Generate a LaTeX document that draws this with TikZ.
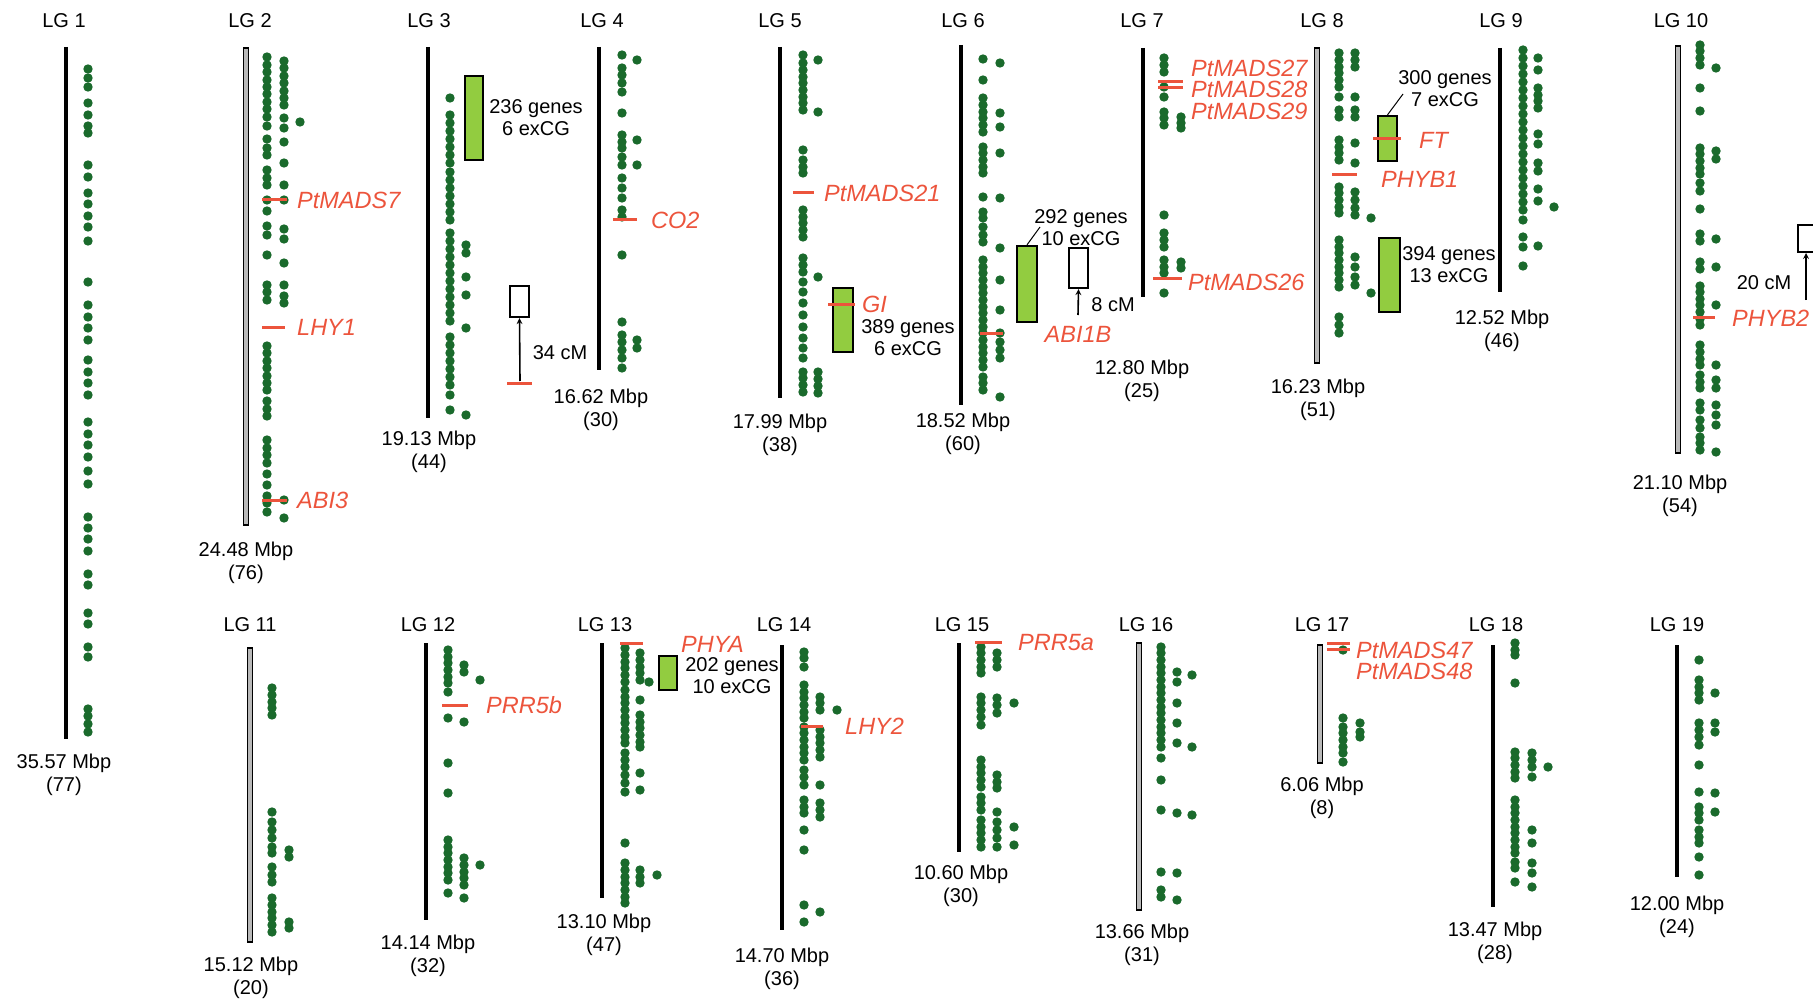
\documentclass[tikz,border=0pt]{standalone}
\usepackage{fontspec}
\setmainfont{Liberation Sans}
\usetikzlibrary{positioning}
\definecolor{dotgreen}{RGB}{26,106,44}
\definecolor{genered}{RGB}{236,84,60}
\definecolor{boxgreen}{RGB}{146,204,64}
\tikzset{
  gdot/.style={fill=dotgreen},
  sbar/.style={draw=black, line width=3.2pt},
  dbar/.style={draw=black, line width=1.3pt, fill=gray!55},
  lgname/.style={font=\fontsize{20}{22}\selectfont, inner sep=0pt},
  mbp/.style={font=\fontsize{20}{23}\selectfont, align=center, inner sep=0pt},
  note/.style={font=\fontsize{20}{22}\selectfont, align=center, inner sep=0pt},
  gene/.style={font=\fontsize{23.5}{24}\selectfont\itshape, text=genered, anchor=west, inner sep=0pt},
  gline/.style={draw=genered, line width=3pt},
  gbox/.style={draw=black, line width=2.3pt, fill=boxgreen, inner sep=0pt},
  cmbox/.style={draw=black, line width=2.3pt, fill=white, inner sep=0pt},
  cmarrow/.style={->, >=stealth, line width=1.6pt}
}
\begin{document}
\begin{tikzpicture}[x=1pt, y=-1pt]
\useasboundingbox (0,0) rectangle (1813,1003);
\node[lgname] (lg1) at (64,21) {LG 1};
\node[lgname] (lg2) at (250,21) {LG 2};
\node[lgname] (lg3) at (429,21) {LG 3};
\node[lgname] (lg4) at (602,21) {LG 4};
\node[lgname] (lg5) at (780,21) {LG 5};
\node[lgname] (lg6) at (963,21) {LG 6};
\node[lgname] (lg7) at (1142,21) {LG 7};
\node[lgname] (lg8) at (1322,21) {LG 8};
\node[lgname] (lg9) at (1501,21) {LG 9};
\node[lgname] (lg10) at (1681,21) {LG 10};
\node[lgname] (lg11) at (250,625) {LG 11};
\node[lgname] (lg12) at (428,625) {LG 12};
\node[lgname] (lg13) at (605,625) {LG 13};
\node[lgname] (lg14) at (784,625) {LG 14};
\node[lgname] (lg15) at (962,625) {LG 15};
\node[lgname] (lg16) at (1146,625) {LG 16};
\node[lgname] (lg17) at (1322,625) {LG 17};
\node[lgname] (lg18) at (1496,625) {LG 18};
\node[lgname] (lg19) at (1677,625) {LG 19};

\draw[sbar] (66,47) -- (66,739);
\foreach \y in {69,78,87,103,115,126,133,165,177,193,204,216,227,241,282,305,317,328,340,360,372,383,395,422,434,445,457,471,484,517,528,539,551,574,585,613,624,647,657,709,716,724,732}
  \fill[gdot] (88,\y) circle (4.7);
\node[mbp] (mbp1) at (64,775) {35.57 Mbp\\(77)};

\draw[dbar] (243.5,48) rectangle (248.5,525);
\foreach \y in {57,65,72,80,87,94,102,109,117,126,139,148,155,170,178,185,200,211,226,235,255,285,292,300,346,353,361,368,376,383,390,401,409,416,440,448,455,463,474,485,496,503,512}
  \fill[gdot] (267,\y) circle (4.7);
\foreach \y in {61,68,76,83,91,98,105,118,128,142,163,185,200,229,239,263,285,296,303,500,518}
  \fill[gdot] (284,\y) circle (4.7);
\fill[gdot] (300,122) circle (4.7);
\draw[gline] (262,200) -- (287,200);
\draw[gline] (262,327) -- (285,327);
\draw[gline] (262,500) -- (287,500);
\node[gene] (ptmads7) at (297,200) {PtMADS7};
\node[gene] (lhy1) at (297,327) {LHY1};
\node[gene] (abi3) at (297,500) {ABI3};
\node[mbp] (mbp2) at (246,563) {24.48 Mbp\\(76)};

\draw[sbar] (428,47) -- (428,418);
\foreach \y in {98,115,123,131,139,147,155,163,172,180,188,196,204,212,220,233,241,249,257,265,273,281,289,297,305,313,321,337,345,353,361,369,377,385,395,410}
  \fill[gdot] (450,\y) circle (4.7);
\foreach \y in {245,253,277,295,328,415}
  \fill[gdot] (466,\y) circle (4.7);
\node[gbox, minimum width=18pt, minimum height=84pt] (box3) at (474,118) {};
\node[note] (note3) at (536,118) {236 genes\\6 exCG};
\node[cmbox, minimum width=19pt, minimum height=31pt] (cmbox3) at (519.5,301.5) {};
\draw[gline] (507,383) -- (532,383);
\coordinate (cm3) at (520,381);
\draw[cmarrow] (cm3) -- (cmbox3.south);
\node[note] (dist3) at (560,353) {34 cM};
\node[mbp] (mbp3) at (429,452) {19.13 Mbp\\(44)};

\draw[sbar] (599,47) -- (599,370);
\foreach \y in {55,68,75,83,92,113,135,142,148,157,165,178,188,198,210,217,255,322,335,342,350,358,368}
  \fill[gdot] (622,\y) circle (4.7);
\foreach \y in {60,140,165,340,348}
  \fill[gdot] (637,\y) circle (4.7);
\draw[gline] (613,220) -- (637,220);
\node[gene] (co2) at (651,220) {CO2};
\node[mbp] (mbp4) at (601,410) {16.62 Mbp\\(30)};

\draw[sbar] (780,47) -- (780,398);
\foreach \y in {55,63,70,77,83,90,97,103,110,150,160,167,173,210,217,223,230,237,258,265,272,282,292,303,315,327,338,348,358,372,378,385,392}
  \fill[gdot] (803,\y) circle (4.7);
\foreach \y in {60,112,277,372,379,386,393}
  \fill[gdot] (818,\y) circle (4.7);
\node[gbox, minimum width=20pt, minimum height=64pt] (box5) at (843,320) {};
\draw[gline] (793,193) -- (814,193);
\draw[gline] (828,304) -- (855,304);
\node[gene] (ptmads21) at (824,193) {PtMADS21};
\node[gene] (gi) at (862,304) {GI};
\node[note] (note5) at (908,338) {389 genes\\6 exCG};
\node[mbp] (mbp5) at (780,435) {17.99 Mbp\\(38)};

\draw[sbar] (961,45) -- (961,405);
\foreach \y in {59,80,98,105,112,118,125,132,147,153,160,167,173,197,212,218,227,235,242,260,267,273,280,287,293,300,307,313,320,327,333,340,347,353,360,367,377,383,390}
  \fill[gdot] (983,\y) circle (4.7);
\foreach \y in {63,113,127,153,198,248,280,310,333,342,350,358,397}
  \fill[gdot] (1000,\y) circle (4.7);
\node[gbox, minimum width=20pt, minimum height=76pt] (box6) at (1027,284) {};
\node[note] (note6) at (1081,228) {292 genes\\10 exCG};
\coordinate (lead6) at (1040,227);
\draw[line width=1pt] (box6.north) -- (lead6);
\node[cmbox, minimum width=19pt, minimum height=40pt] (cmbox6) at (1078.5,268) {};
\draw[gline] (980,333) -- (1003,333);
\node[gene, anchor=center] (abi1b) at (1078,334) {ABI1B};
\coordinate (cm6) at (1078,315);
\draw[cmarrow] (cm6) -- (cmbox6.south);
\node[note] (dist6) at (1113,305) {8 cM};
\node[mbp] (mbp6) at (963,434) {18.52 Mbp\\(60)};

\draw[sbar] (1143,48) -- (1143,297);
\foreach \y in {58,65,72,87,97,112,118,125,215,233,240,247,260,267,273,293}
  \fill[gdot] (1164,\y) circle (4.7);
\foreach \y in {117,123,128,262,268}
  \fill[gdot] (1181,\y) circle (4.7);
\draw[gline] (1158,82) -- (1183,82);
\draw[gline] (1158,88) -- (1183,88);
\draw[gline] (1153,278) -- (1182,278);
\node[gene] (ptmads27) at (1191,68) {PtMADS27};
\node[gene] (ptmads28) at (1191,89) {PtMADS28};
\node[gene] (ptmads29) at (1191,111) {PtMADS29};
\node[gene] (ptmads26) at (1188,282) {PtMADS26};
\node[mbp] (mbp7) at (1142,381) {12.80 Mbp\\(25)};

\draw[dbar] (1314.5,48) rectangle (1319.5,363);
\foreach \y in {53,60,67,73,80,87,97,110,117,140,147,153,160,187,193,200,207,213,240,247,253,260,267,273,280,287,317,325,333}
  \fill[gdot] (1339,\y) circle (4.7);
\foreach \y in {53,60,67,97,110,117,143,163,192,200,208,215,257,267,277,285}
  \fill[gdot] (1355,\y) circle (4.7);
\fill[gdot] (1371,218) circle (4.7);
\fill[gdot] (1371,293) circle (4.7);
\node[gbox, minimum width=19pt, minimum height=45pt] (box8a) at (1387.5,138.5) {};
\node[gbox, minimum width=21pt, minimum height=74pt] (box8b) at (1389.5,275) {};
\draw[gline] (1332,175) -- (1357,175);
\draw[gline] (1373,139) -- (1401,139);
\node[gene] (ft) at (1419,140) {FT};
\node[gene] (phyb1) at (1381,179) {PHYB1};
\node[note] (note8a) at (1445,89) {300 genes\\7 exCG};
\coordinate (lead8) at (1403,94);
\draw[line width=1pt] (box8a.north) -- (lead8);
\node[note] (note8b) at (1449,265) {394 genes\\13 exCG};
\node[mbp] (mbp8) at (1318,400) {16.23 Mbp\\(51)};

\draw[sbar] (1500,48) -- (1500,292);
\foreach \y in {50,58,66,74,82,90,98,106,114,122,130,138,146,154,162,170,178,186,194,202,210,220,237,247,266}
  \fill[gdot] (1523,\y) circle (4.7);
\foreach \y in {58,70,88,95,101,108,134,144,163,171,189,201,246}
  \fill[gdot] (1538,\y) circle (4.7);
\fill[gdot] (1554,207) circle (4.7);
\node[mbp] (mbp9) at (1502,331) {12.52 Mbp\\(46)};

\draw[dbar] (1675.5,46) rectangle (1680.5,453);
\foreach \y in {45,51,58,65,88,111,148,154,161,168,174,183,191,209,234,241,262,269,286,292,299,305,312,319,325,345,352,359,365,375,382,388,403,410,420,428,437,443,450}
  \fill[gdot] (1700,\y) circle (4.7);
\foreach \y in {68,151,159,239,267,305,365,380,388,405,415,425,452}
  \fill[gdot] (1716,\y) circle (4.7);
\draw[gline] (1693,317) -- (1715,317);
\node[gene] (phyb2) at (1732,318) {PHYB2};
\draw[line width=2.3pt] (1813,225) -- (1798,225) -- (1798,252) -- (1813,252);
\coordinate (cmbox10) at (1806,253);
\coordinate (cm10) at (1806,300);
\draw[cmarrow] (cm10) -- (cmbox10);
\node[note] (dist10) at (1764,283) {20 cM};
\node[mbp] (mbp10) at (1680,496) {21.10 Mbp\\(54)};

\draw[dbar] (247.5,648) rectangle (252.5,942);
\foreach \y in {688,695,702,708,715,812,822,830,838,847,853,867,875,882,898,905,912,918,925,932}
  \fill[gdot] (272,\y) circle (4.7);
\foreach \y in {850,857,922,928}
  \fill[gdot] (289,\y) circle (4.7);
\node[mbp] (mbp11) at (251,978) {15.12 Mbp\\(20)};

\draw[sbar] (426,643) -- (426,920);
\foreach \y in {650,657,663,670,677,683,692,718,763,793,840,847,853,860,867,873,880,893}
  \fill[gdot] (448,\y) circle (4.7);
\foreach \y in {665,672,722,858,865,872,878,885,898}
  \fill[gdot] (464,\y) circle (4.7);
\fill[gdot] (480,680) circle (4.7);
\fill[gdot] (480,865) circle (4.7);
\draw[gline] (442,705) -- (468,705);
\node[gene] (prr5b) at (486,705) {PRR5b};
\node[mbp] (mbp12) at (428,956) {14.14 Mbp\\(32)};

\draw[sbar] (602,643) -- (602,898);
\foreach \y in {648,655,662,668,675,682,690,697,703,710,717,723,730,737,743,753,760,767,775,783,792,843,863,870,877,883,890,897,903}
  \fill[gdot] (625,\y) circle (4.7);
\foreach \y in {653,660,667,673,680,700,715,722,728,735,742,747,773,790,870,877,883}
  \fill[gdot] (640,\y) circle (4.7);
\fill[gdot] (649,682) circle (4.7);
\fill[gdot] (657,875) circle (4.7);
\node[gbox, minimum width=18pt, minimum height=34pt] (box13) at (668,673) {};
\draw[gline] (620,643) -- (643,643);
\node[gene] (phya) at (681,644) {PHYA};
\node[note] (note13) at (732,676) {202 genes\\10 exCG};
\node[mbp] (mbp13) at (604,935) {13.10 Mbp\\(47)};

\draw[sbar] (782,645) -- (782,930);
\foreach \y in {652,658,667,685,692,698,705,712,718,727,733,740,747,753,760,770,777,785,800,807,813,830,850,905,922}
  \fill[gdot] (804,\y) circle (4.7);
\foreach \y in {697,703,710,730,737,743,750,757,785,803,810,817,912}
  \fill[gdot] (820,\y) circle (4.7);
\fill[gdot] (837,710) circle (4.7);
\draw[gline] (801,726) -- (823,726);
\node[gene] (lhy2) at (845,726) {LHY2};
\node[mbp] (mbp14) at (782,969) {14.70 Mbp\\(36)};

\draw[sbar] (959,643) -- (959,852);
\foreach \y in {647,653,660,667,673,697,703,710,717,725,760,767,773,780,787,797,803,810,820,827,833,840,847}
  \fill[gdot] (981,\y) circle (4.7);
\foreach \y in {653,660,667,698,705,713,775,782,788,812,822,830,838,847}
  \fill[gdot] (997,\y) circle (4.7);
\foreach \y in {703,827,845}
  \fill[gdot] (1014,\y) circle (4.7);
\draw[gline] (975,642) -- (1002,642);
\node[gene] (prr5a) at (1018,643) {PRR5a};
\node[mbp] (mbp15) at (961,886) {10.60 Mbp\\(30)};

\draw[dbar] (1136.5,643) rectangle (1141.5,910);
\foreach \y in {647,653,660,667,673,680,687,693,700,707,713,720,727,733,740,747,758,780,810,872,890,897}
  \fill[gdot] (1161,\y) circle (4.7);
\foreach \y in {672,682,703,723,743,813,873,900}
  \fill[gdot] (1177,\y) circle (4.7);
\foreach \y in {675,747,815}
  \fill[gdot] (1192,\y) circle (4.7);
\node[mbp] (mbp16) at (1142,945) {13.66 Mbp\\(31)};

\draw[dbar] (1317.5,645) rectangle (1322.5,763);
\foreach \y in {650,718,727,733,740,747,753,762}
  \fill[gdot] (1343,\y) circle (4.7);
\foreach \y in {723,732,737}
  \fill[gdot] (1360,\y) circle (4.7);
\draw[gline] (1327,643) -- (1350,643);
\draw[gline] (1327,649) -- (1350,649);
\node[gene] (ptmads47) at (1356,650) {PtMADS47};
\node[gene] (ptmads48) at (1356,671) {PtMADS48};
\node[mbp] (mbp17) at (1322,798) {6.06 Mbp\\(8)};

\draw[sbar] (1493,645) -- (1493,907);
\foreach \y in {643,650,655,683,752,758,765,772,778,800,807,813,820,827,833,840,847,853,862,868,882}
  \fill[gdot] (1515,\y) circle (4.7);
\foreach \y in {753,760,767,777,830,843,863,873,887}
  \fill[gdot] (1532,\y) circle (4.7);
\fill[gdot] (1548,767) circle (4.7);
\node[mbp] (mbp18) at (1495,943) {13.47 Mbp\\(28)};

\draw[sbar] (1677,645) -- (1677,877);
\foreach \y in {660,680,687,693,700,723,730,737,745,765,792,807,813,820,830,837,843,857,875}
  \fill[gdot] (1699,\y) circle (4.7);
\foreach \y in {693,723,732,793,812}
  \fill[gdot] (1715,\y) circle (4.7);
\node[mbp] (mbp19) at (1677,917) {12.00 Mbp\\(24)};
\end{tikzpicture}
\end{document}
